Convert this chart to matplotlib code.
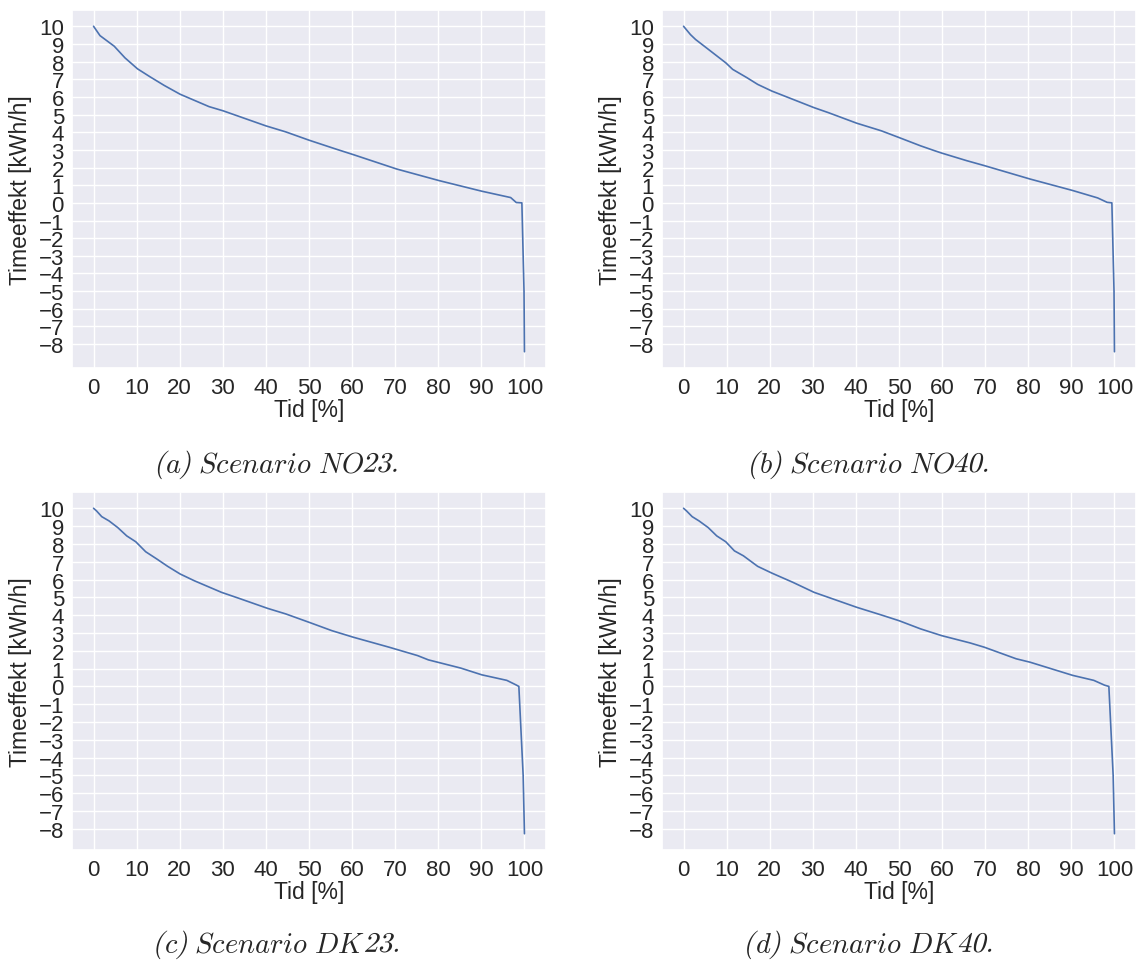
import numpy as np
import matplotlib
matplotlib.use("Agg")
import matplotlib.pyplot as plt
import seaborn as sns
from matplotlib.patheffects import AbstractPathEffect
from matplotlib.transforms import Affine2D

# (x = share of time in %, y = kWh/h)
x_no23 = [0, 1.5, 4.8, 7.3, 10.2, 13.1, 16.4, 20.1, 26.8, 30.1, 40.0, 44.6, 50.0,
          56.2, 60.3, 70.3, 80.2, 90.1, 96.8, 98.1, 99.4, 99.9, 100]
y_no23 = [10, 9.47, 8.87, 8.21, 7.59, 7.14, 6.65, 6.15, 5.45, 5.21, 4.36, 4.02, 3.55,
          3.05, 2.73, 1.92, 1.26, 0.66, 0.30, 0.02, 0.0, -5.0, -8.43]

x_no40 = [0, 1.6, 2.8, 5.3, 9.8, 11.4, 14.7, 17.2, 20.5, 25.4, 30.3, 33.6, 40.2, 45.9,
          50.0, 55.0, 58.3, 59.9, 65.7, 69.8, 80.4, 90.3, 96.1, 98.3, 99.4, 99.9, 100]
y_no40 = [10, 9.53, 9.25, 8.78, 7.93, 7.56, 7.09, 6.71, 6.33, 5.86, 5.39, 5.11, 4.51, 4.08,
          3.70, 3.23, 2.95, 2.82, 2.39, 2.11, 1.35, 0.70, 0.28, 0.03, 0.0, -5.0, -8.43]

x_dk23 = [0, 0.7, 1.9, 3.6, 5.6, 7.7, 9.8, 12.1, 14.7, 17.2, 20.1, 23.4, 29.7, 33.8,
          40.4, 44.6, 50.0, 55.3, 60.3, 68.6, 75.2, 77.7, 85.2, 90.1, 95.9, 98.0, 98.7,
          99.7, 100]
y_dk23 = [10, 9.85, 9.53, 9.29, 8.92, 8.45, 8.12, 7.56, 7.15, 6.74, 6.31, 5.93, 5.28, 4.94,
          4.38, 4.07, 3.60, 3.13, 2.76, 2.20, 1.73, 1.49, 1.03, 0.65, 0.34, 0.09, 0.0,
          -5.0, -8.27]

x_dk40 = [0, 0.7, 2.0, 3.6, 5.7, 7.7, 9.8, 11.8, 13.9, 17.2, 20.5, 25.4, 30.3, 33.6,
          40.2, 45.9, 50.0, 55.0, 59.9, 66.5, 69.8, 77.2, 80.4, 90.3, 95.2, 97.7, 98.7,
          99.7, 100]
y_dk40 = [10, 9.85, 9.53, 9.29, 8.92, 8.45, 8.12, 7.61, 7.33, 6.74, 6.36, 5.84, 5.28, 5.00,
          4.44, 4.01, 3.69, 3.23, 2.85, 2.44, 2.20, 1.55, 1.36, 0.62, 0.34, 0.07, 0.0,
          -5.0, -8.27]

# caption pieces: (text, italic?)  - roman pieces get slanted to look like text italic
captions = [
    [("(", 0), ("a", 1), (")", 0), (r"\ Scenario\ NO", 1), ("23.", 0)],
    [("(", 0), ("b", 1), (")", 0), (r"\ Scenario\ NO", 1), ("40.", 0)],
    [("(", 0), ("c", 1), (")", 0), (r"\ Scenario\ DK", 1), ("23.", 0)],
    [("(", 0), ("d", 1), (")", 0), (r"\ Scenario\ DK", 1), ("40.", 0)],
]
xticks = list(range(0, 101, 10))
yticks = list(range(-8, 11))


class Slant(AbstractPathEffect):
    def draw_path(self, renderer, gc, tpath, affine, rgbFace=None):
        renderer.draw_path(gc, tpath, Affine2D().skew_deg(14, 0) + affine, rgbFace)


sns.set_theme(style="darkgrid")
plt.rcParams["font.family"] = ["Liberation Sans", "DejaVu Sans"]
plt.rcParams["mathtext.fontset"] = "cm"

W, H = 1136, 962
fig = plt.figure(figsize=(W / 100, H / 100), dpi=100)

boxes = [(72, 11), (662, 11), (72, 493), (662, 493)]
aw, ah = 474, 358
cap_pos = [(276, 466), (868, 466), (276, 946), (868, 946)]
series = [(x_no23, y_no23), (x_no40, y_no40), (x_dk23, y_dk23), (x_dk40, y_dk40)]

renderer = fig.canvas.get_renderer()

for (l, t), (xs, ys), cap, (cx, cy) in zip(boxes, series, captions, cap_pos):
    ax = fig.add_axes([l / W, 1 - (t + ah) / H, aw / W, ah / H])
    ax.plot(xs, ys, color="#4c72b0", lw=1.2)
    ax.set_xticks(xticks)
    ax.set_yticks(yticks)
    ax.tick_params(labelsize=16, length=0)
    ax.tick_params(axis="x", pad=6.8)
    ax.tick_params(axis="y", pad=5.8)
    ax.set_xlabel("Tid [%]", fontsize=16.5)
    ax.set_ylabel("Timeeffekt [kWh/h]", fontsize=16.5)
    ax.xaxis.set_label_coords(0.5, -0.083)
    ax.yaxis.set_label_coords(-0.084, 0.5)

    # caption built from pieces, then centred
    arts = []
    x = 0
    for s, it in cap:
        tx = r"$\mathit{" + s + "}$" if it else r"$\mathrm{" + s + "}$"
        a = fig.text(0, 0, tx, fontsize=20.5, ha="left", va="baseline",
                     transform=None)
        if not it:
            a.set_path_effects([Slant()])
        w = a.get_window_extent(renderer).width
        arts.append((a, x))
        x += w - (2 if it else 0)
    x0 = cx - x / 2
    for a, off in arts:
        a.set_position((x0 + off, H - cy - 7))

fig.savefig("out.png", dpi=100)
